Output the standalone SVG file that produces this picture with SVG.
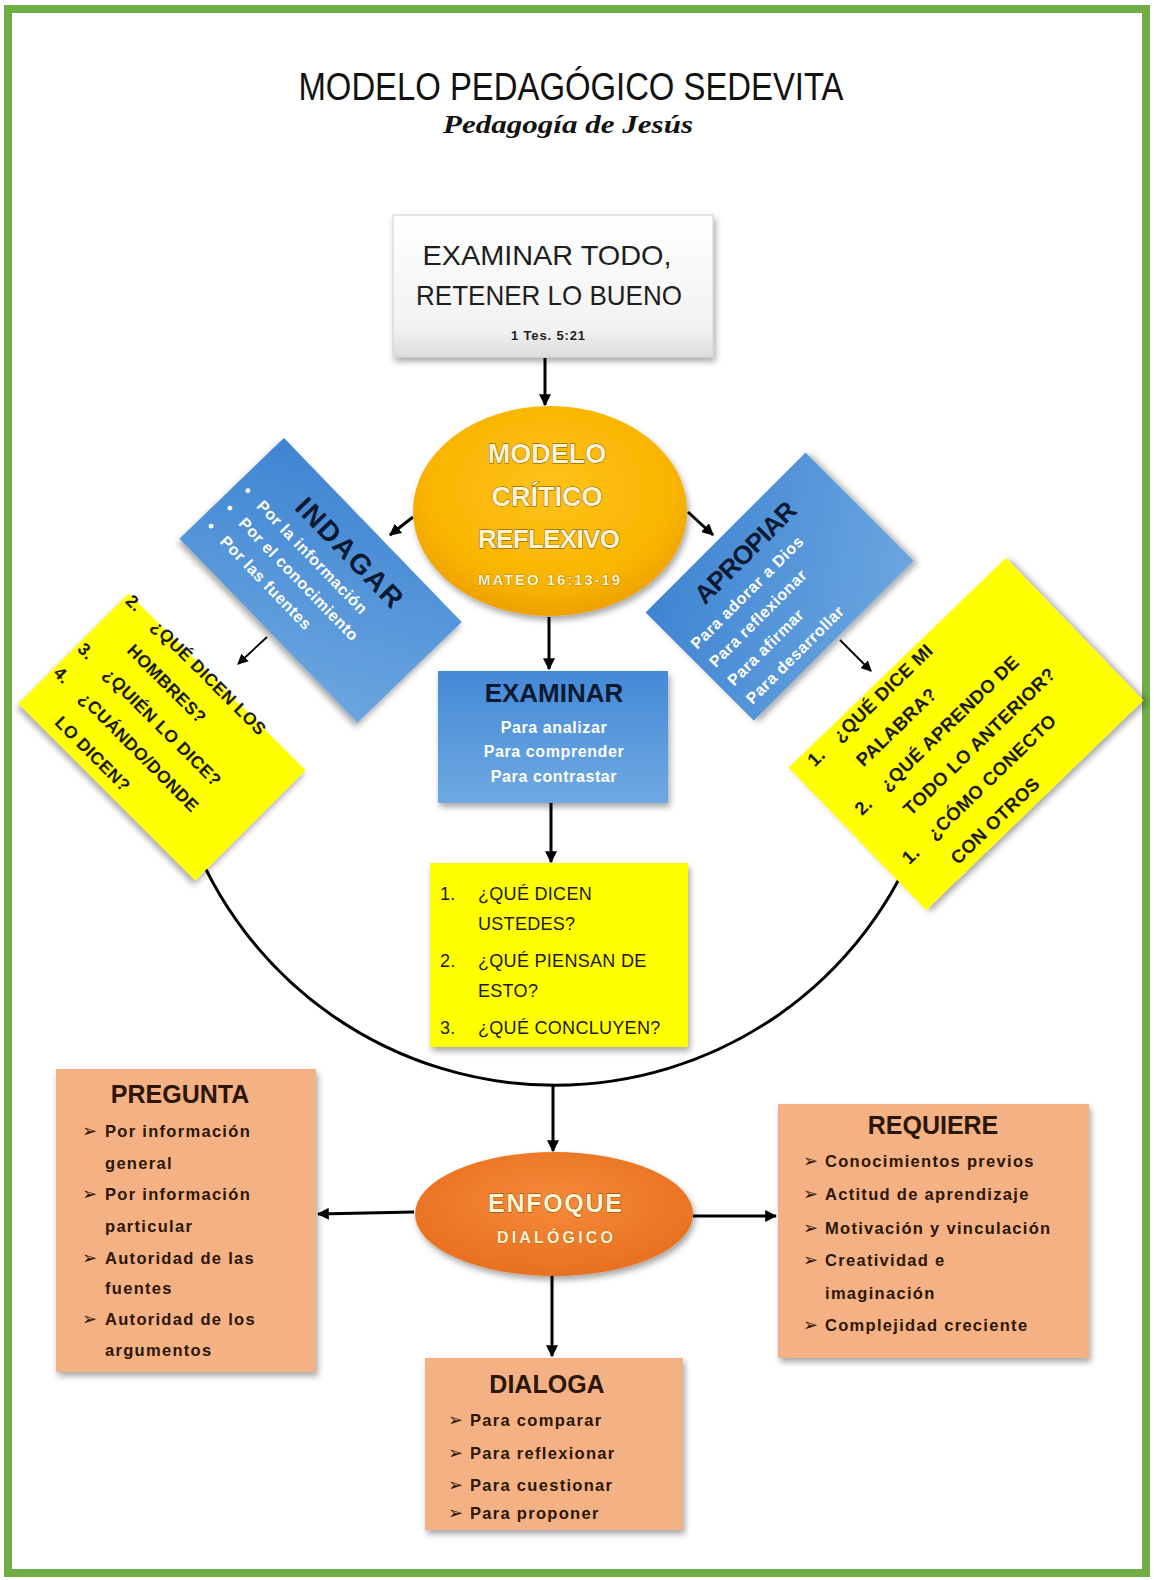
<svg xmlns="http://www.w3.org/2000/svg" width="1154" height="1580" viewBox="0 0 1154 1580">
<defs>
<style>
.t{font-family:"Liberation Sans",Arial,sans-serif;}
.b{font-family:"Liberation Sans",Arial,sans-serif;font-weight:bold;}
.wt{fill:#ffffff;font-size:16px;letter-spacing:0.6px;}
.navy{fill:#0b1a33;}
.yel{fill:#1a1a1a;font-size:17.5px;letter-spacing:0.4px;}
.brn{fill:#2b1608;}
.item{font-size:16.5px;letter-spacing:1.3px;fill:#2b1608;}
.bul{font-family:"DejaVu Sans",sans-serif;font-size:18px;fill:#2b1608;}
.cream{fill:#fff4d2;stroke:#6b4a10;stroke-width:0.9px;paint-order:stroke;}
.ln{stroke:#000;stroke-width:3;fill:none;}
.lnt{stroke:#000;stroke-width:1.8;fill:none;}
</style>
<linearGradient id="gBlue" x1="0" y1="0" x2="0" y2="1">
<stop offset="0" stop-color="#4489d6"/><stop offset="1" stop-color="#6fa9e2"/>
</linearGradient>
<linearGradient id="gBlueR" x1="0" y1="0" x2="1" y2="1">
<stop offset="0" stop-color="#3f84d2"/><stop offset="1" stop-color="#6aa6e0"/>
</linearGradient>
<linearGradient id="gGray" x1="0" y1="0" x2="0" y2="1">
<stop offset="0" stop-color="#ffffff"/><stop offset="0.8" stop-color="#f2f2f2"/><stop offset="1" stop-color="#dcdcdc"/>
</linearGradient>
<radialGradient id="gGold" cx="0.5" cy="0.4" r="0.6">
<stop offset="0" stop-color="#ffc21a"/><stop offset="0.75" stop-color="#f9b500"/><stop offset="1" stop-color="#eea000"/>
</radialGradient>
<radialGradient id="gOrange" cx="0.5" cy="0.4" r="0.6">
<stop offset="0" stop-color="#f58a3a"/><stop offset="1" stop-color="#e8701f"/>
</radialGradient>
<filter id="sh" x="-20%" y="-20%" width="140%" height="140%">
<feDropShadow dx="2" dy="4" stdDeviation="3" flood-color="#000" flood-opacity="0.35"/>
</filter>
<marker id="ah" viewBox="0 0 10 10" refX="9" refY="5" markerWidth="4" markerHeight="4" orient="auto">
<path d="M0,0 L10,5 L0,10 z" fill="#000"/>
</marker>
<marker id="ahs" viewBox="0 0 10 10" refX="9" refY="5" markerWidth="6" markerHeight="6" orient="auto">
<path d="M0,0 L10,5 L0,10 z" fill="#000"/>
</marker>
</defs>

<rect x="0" y="0" width="1154" height="1580" fill="#ffffff"/>
<rect id="frame" x="8" y="9" width="1138" height="1564" fill="none" stroke="#70ad47" stroke-width="8"/>

<g id="title">
<text class="t" x="571" y="100" font-size="38" text-anchor="middle" textLength="545" lengthAdjust="spacingAndGlyphs" fill="#111">MODELO PEDAGÓGICO SEDEVITA</text>
<text x="568" y="133" font-family="'Liberation Serif',serif" font-style="italic" font-weight="bold" font-size="26" text-anchor="middle" textLength="250" lengthAdjust="spacingAndGlyphs" fill="#111">Pedagogía de Jesús</text>
</g>

<g id="connectors">
<path class="ln" d="M 189 830 A 390 390 0 0 0 921 830" stroke-width="3.5"/>
<line class="ln" x1="545" y1="358" x2="545" y2="405" marker-end="url(#ah)"/>
<line class="ln" x1="549" y1="617" x2="549" y2="669" marker-end="url(#ah)"/>
<line class="ln" x1="551" y1="803" x2="551" y2="862" marker-end="url(#ah)"/>
<line class="ln" x1="553" y1="1086" x2="553" y2="1151" marker-end="url(#ah)"/>
<line class="ln" x1="414" y1="1212" x2="318" y2="1214" marker-end="url(#ah)"/>
<line class="ln" x1="693" y1="1216" x2="776" y2="1216" marker-end="url(#ah)"/>
<line class="ln" x1="552" y1="1276" x2="552" y2="1356" marker-end="url(#ah)"/>
<line class="ln" x1="413" y1="517" x2="390" y2="535" marker-end="url(#ah)"/>
<line class="ln" x1="688" y1="512" x2="713" y2="535" marker-end="url(#ah)"/>
<line class="lnt" x1="267" y1="637" x2="238" y2="664" marker-end="url(#ahs)"/>
<line class="lnt" x1="840" y1="640" x2="871" y2="671" marker-end="url(#ahs)"/>
</g>

<g id="top-box">
<rect x="393" y="215" width="320" height="142" fill="url(#gGray)" stroke="#d0d0d0" stroke-width="1" filter="url(#sh)"/>
<text class="t" x="547" y="265" font-size="28" text-anchor="middle" textLength="249" lengthAdjust="spacingAndGlyphs" fill="#1e1e1e">EXAMINAR  TODO,</text>
<text class="t" x="549" y="305" font-size="28" text-anchor="middle" textLength="266" lengthAdjust="spacingAndGlyphs" fill="#1e1e1e">RETENER  LO BUENO</text>
<text class="b" x="548" y="340" font-size="13" text-anchor="middle" textLength="74" fill="#1e1e1e">1 Tes. 5:21</text>
</g>

<g id="circle-modelo">
<ellipse cx="550" cy="511" rx="137" ry="105" fill="url(#gGold)" filter="url(#sh)"/>
<text class="b cream" x="547" y="463" font-size="27" text-anchor="middle">MODELO</text>
<text class="b cream" x="547" y="506" font-size="27" text-anchor="middle">CRÍTICO</text>
<text class="b cream" x="549" y="548" font-size="26" text-anchor="middle" textLength="142">REFLEXIVO</text>
<text class="b cream" x="549" y="585" font-size="15" text-anchor="middle" textLength="142" style="stroke-width:0.6px">MATEO 16:13-19</text>
</g>

<g id="indagar" transform="translate(321,580) rotate(46)">
<rect x="-128" y="-72" width="256" height="145" fill="url(#gBlueR)" filter="url(#sh)"/>
<text class="b navy" x="0" y="-30" font-size="28" text-anchor="middle" textLength="141">INDAGAR</text>
<g class="b wt">
<text x="-118" y="-4">•</text><text x="-98" y="-4">Por la información</text>
<text x="-118" y="21">•</text><text x="-98" y="21">Por el conocimiento</text>
<text x="-118" y="47">•</text><text x="-98" y="47">Por las fuentes</text>
</g>
</g>

<g id="apropiar" transform="translate(780,587) rotate(-45)">
<rect x="-113" y="-77" width="226" height="153" fill="url(#gBlueR)" filter="url(#sh)"/>
<text class="b navy" x="0" y="-40" font-size="26" text-anchor="middle" textLength="132">APROPIAR</text>
<g class="b wt">
<text x="-103" y="-14">Para adorar a Dios</text>
<text x="-103" y="12">Para reflexionar</text>
<text x="-103" y="38">Para afirmar</text>
<text x="-103" y="64">Para desarrollar</text>
</g>
</g>

<g id="examinar">
<rect x="438" y="671" width="230" height="132" fill="url(#gBlue)" filter="url(#sh)"/>
<text class="b navy" x="554" y="702" font-size="26" text-anchor="middle">EXAMINAR</text>
<g class="b wt" text-anchor="middle">
<text x="554" y="733">Para analizar</text>
<text x="554" y="757">Para comprender</text>
<text x="554" y="782">Para contrastar</text>
</g>
</g>

<g id="preguntas-hombres" transform="translate(162,737) rotate(45)">
<rect x="-125" y="-78" width="250" height="156" fill="#ffff00" filter="url(#sh)"/>
<g class="b yel">
<text x="-122" y="-69">2.</text><text x="-86" y="-69">¿QUÉ DICEN LOS</text>
<text x="-86" y="-35">HOMBRES?</text>
<text x="-122" y="-1">3.</text><text x="-86" y="-1">¿QUIÉN LO DICE?</text>
<text x="-122" y="33">4.</text><text x="-86" y="33">¿CUÁNDO/DONDE</text>
<text x="-86" y="67">LO DICEN?</text>
</g>
</g>

<g id="preguntas-palabra" transform="translate(966,734) rotate(-44)">
<rect x="-151" y="-99" width="302" height="198" fill="#ffff00" filter="url(#sh)"/>
<g class="b yel" style="font-size:18.5px">
<text x="-132" y="-81">1.</text><text x="-97" y="-81">¿QUÉ DICE MI</text>
<text x="-97" y="-47">PALABRA?</text>
<text x="-132" y="-13">2.</text><text x="-97" y="-13">¿QUÉ APRENDO DE</text>
<text x="-97" y="21">TODO LO ANTERIOR?</text>
<text x="-132" y="55">1.</text><text x="-97" y="55">¿CÓMO CONECTO</text>
<text x="-97" y="89">CON OTROS</text>
</g>
</g>

<g id="preguntas-ustedes">
<rect x="430" y="863" width="258" height="184" fill="#ffff00" filter="url(#sh)"/>
<g class="t" font-size="18" fill="#1a1a1a" letter-spacing="0.3">
<text x="440" y="900">1.</text><text x="478" y="900">¿QUÉ DICEN</text>
<text x="478" y="930">USTEDES?</text>
<text x="440" y="967">2.</text><text x="478" y="967">¿QUÉ PIENSAN DE</text>
<text x="478" y="997">ESTO?</text>
<text x="440" y="1034">3.</text><text x="478" y="1034">¿QUÉ CONCLUYEN?</text>
</g>
</g>

<g id="enfoque">
<ellipse cx="554" cy="1214" rx="139" ry="62" fill="url(#gOrange)" filter="url(#sh)"/>
<text class="b cream" x="555" y="1212" font-size="25" text-anchor="middle" textLength="134">ENFOQUE</text>
<text class="b cream" x="555" y="1243" font-size="16" text-anchor="middle" textLength="116" style="stroke-width:0.5px">DIALÓGICO</text>
</g>

<g id="pregunta">
<rect x="56" y="1069" width="260" height="303" fill="#f4b183" filter="url(#sh)"/>
<text class="b brn" x="180" y="1103" font-size="25" text-anchor="middle">PREGUNTA</text>
<g class="b item">
<text x="105" y="1137">Por información</text>
<text x="105" y="1169">general</text>
<text x="105" y="1200">Por información</text>
<text x="105" y="1232">particular</text>
<text x="105" y="1264">Autoridad  de las</text>
<text x="105" y="1294">fuentes</text>
<text x="105" y="1325">Autoridad  de los</text>
<text x="105" y="1356">argumentos</text>
</g>
<g class="bul">
<text x="82" y="1137">➢</text><text x="82" y="1200">➢</text><text x="82" y="1264">➢</text><text x="82" y="1325">➢</text>
</g>
</g>

<g id="requiere">
<rect x="778" y="1104" width="311" height="254" fill="#f4b183" filter="url(#sh)"/>
<text class="b brn" x="933" y="1134" font-size="25" text-anchor="middle">REQUIERE</text>
<g class="b item">
<text x="825" y="1167">Conocimientos previos</text>
<text x="825" y="1200">Actitud de aprendizaje</text>
<text x="825" y="1234">Motivación y vinculación</text>
<text x="825" y="1266">Creatividad e</text>
<text x="825" y="1299">imaginación</text>
<text x="825" y="1331">Complejidad creciente</text>
</g>
<g class="bul">
<text x="803" y="1167">➢</text><text x="803" y="1200">➢</text><text x="803" y="1234">➢</text><text x="803" y="1266">➢</text><text x="803" y="1331">➢</text>
</g>
</g>

<g id="dialoga">
<rect x="425" y="1358" width="258" height="172" fill="#f4b183" filter="url(#sh)"/>
<text class="b brn" x="547" y="1393" font-size="25" text-anchor="middle">DIALOGA</text>
<g class="b item">
<text x="470" y="1426">Para comparar</text>
<text x="470" y="1459">Para reflexionar</text>
<text x="470" y="1491">Para cuestionar</text>
<text x="470" y="1519">Para proponer</text>
</g>
<g class="bul">
<text x="448" y="1426">➢</text><text x="448" y="1459">➢</text><text x="448" y="1491">➢</text><text x="448" y="1519">➢</text>
</g>
</g>
</svg>
